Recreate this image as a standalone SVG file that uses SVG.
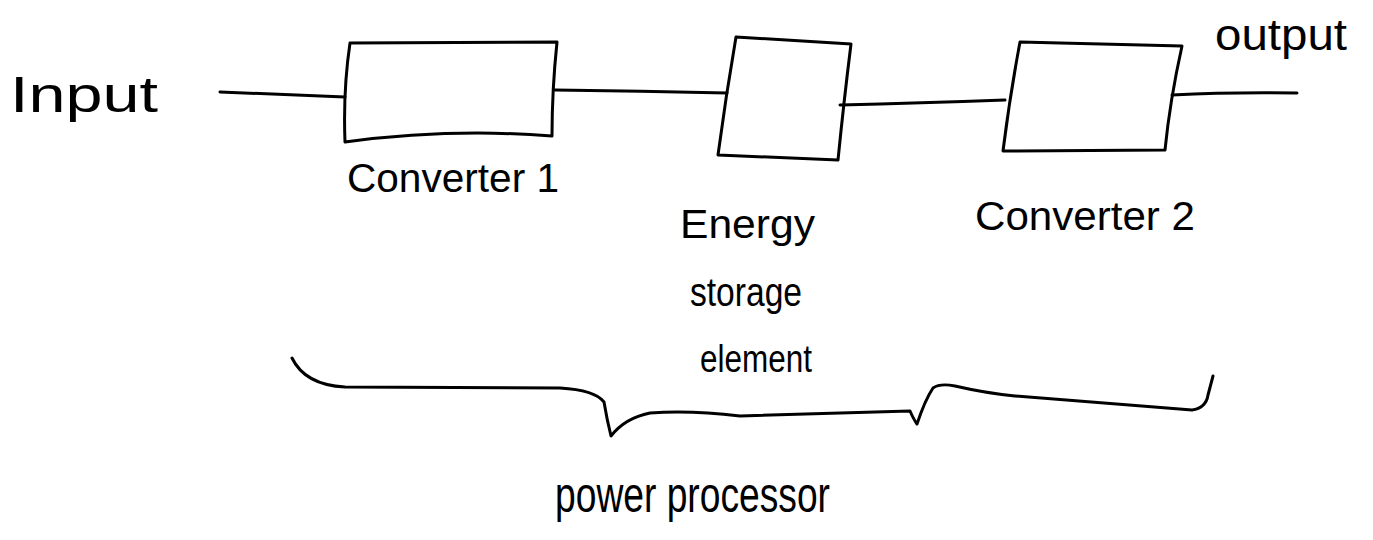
<svg xmlns="http://www.w3.org/2000/svg" width="1373" height="540" viewBox="0 0 1373 540">
<style>
.s{fill:none;stroke:#000;stroke-width:3;stroke-linecap:round;stroke-linejoin:round}
.t{font-family:"Liberation Sans","DejaVu Sans",sans-serif;fill:#000;font-weight:normal}
</style>
<rect width="1373" height="540" fill="#fff"/>
<g id="connectors">
<path class="s" d="M220,92 L345,97"/>
<path class="s" d="M555,90 Q640,91 727,93"/>
<path class="s" d="M840,105 Q920,103 1005,100"/>
<path class="s" d="M1172,95 Q1230,92 1297,93"/>
</g>
<g id="input"><text class="t" x="10" y="112" font-size="50" textLength="148" lengthAdjust="spacingAndGlyphs">Input</text></g>
<g id="output"><text class="t" x="1215" y="50" font-size="44" textLength="132" lengthAdjust="spacingAndGlyphs">output</text></g>
<g id="converter1">
<path class="s" d="M350,43 L557,42 Q552,90 552,136 Q450,128 345,142 Q343,90 350,43 Z"/>
<text class="t" x="347" y="192" font-size="40" textLength="212" lengthAdjust="spacingAndGlyphs">Converter 1</text>
</g>
<g id="storage">
<path class="s" d="M736,37 L851,44 Q844,100 838,160 L718,155 Q726,95 736,37 Z"/>
<text class="t" x="680" y="238" font-size="40" textLength="135" lengthAdjust="spacingAndGlyphs">Energy</text>
<text class="t" x="690" y="306" font-size="40" textLength="112" lengthAdjust="spacingAndGlyphs">storage</text>
<text class="t" x="700" y="372" font-size="38" textLength="112" lengthAdjust="spacingAndGlyphs">element</text>
</g>
<g id="converter2">
<path class="s" d="M1020,42 L1182,46 Q1170,100 1165,150 L1003,151 Q1010,95 1020,42 Z"/>
<text class="t" x="975" y="230" font-size="40" textLength="220" lengthAdjust="spacingAndGlyphs">Converter 2</text>
</g>
<g id="power-processor">
<path class="s" d="M292,358 Q305,385 345,387 L560,388 Q595,390 604,402 Q607,420 611,436 Q625,418 650,413 Q690,410 740,416 L910,411 Q914,420 917,424 Q925,400 933,388 Q940,383 955,386 Q985,393 1015,396 L1192,410 Q1206,408 1208,395 L1213,376"/>
<text class="t" x="555" y="512" font-size="50" textLength="275" lengthAdjust="spacingAndGlyphs">power processor</text>
</g>
</svg>
